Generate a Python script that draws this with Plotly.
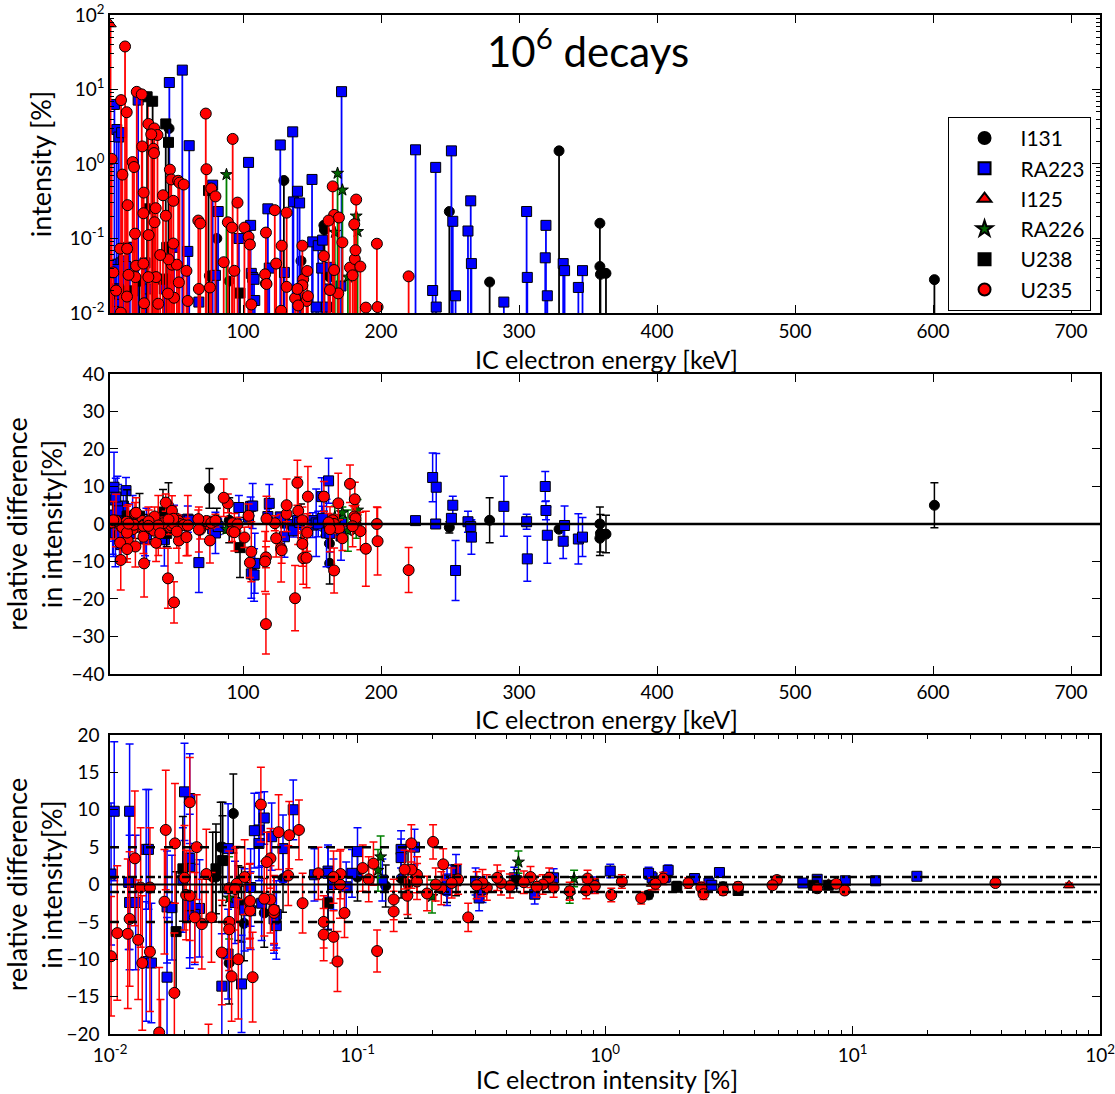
import plotly.graph_objects as go

# ---------------- data ----------------
# I131
i131_energy = [46.4, 75.6, 81.0, 129.6, 142.0, 158.6, 159.0, 162.6, 162.8, 249.5, 278.7, 329.0, 358.6, 358.6, 359.0, 363.0, 601.0, 46.0, 90.0]
i131_intensity = [3.0, 0.0315, 0.1, 0.6, 0.05, 0.15, 0.13, 0.0348, 0.0303, 0.23, 0.026, 1.5, 0.16, 0.042, 0.033, 0.034, 0.028, 0.0285, 0.0268]
i131_reldiff = [-0.3, 9.5, 1.0, 0.3, 0.8, 0.8, -0.2, -5.2, -10.5, -0.9, 1.0, -1.4, 0.0, -3.8, -2.5, -2.7, 5.0, 5.0, 1.0]
i131_err = [0.6, 5.3, 3.2, 1.3, 4.5, 2.6, 2.8, 5.0, 5.5, 1.5, 6.0, 0.5, 4.5, 4.6, 5.0, 5.0, 6.0, 6.0, 6.0]

# RA223
ra223_energy = [6.8, 7.2, 8.5, 10.0, 11.6, 12.0, 13.3, 15.2, 17.0, 18.0, 24.0, 29.0, 46.6, 50.0, 56.0, 60.0, 61.0, 68.0,
                78.0, 80.0, 82.0, 97.0, 104.0, 105.5, 106.0, 107.0, 108.0, 118.0, 119.0, 127.0, 130.0, 136.0, 136.5,
                139.5, 141.0, 150.0, 150.5, 153.0, 154.5, 157.0, 157.7, 160.5, 162.0, 163.0, 171.0, 171.4, 225.0,
                237.4, 239.6, 240.0, 251.0, 252.0, 254.0, 263.0, 265.0, 265.5, 289.0, 305.5, 306.0, 319.0, 319.5,
                320.5, 332.0, 333.0, 343.0, 346.0, 5.5, 6.0, 7.5, 9.0, 108.5, 10.5, 20.0, 5.8, 9.5, 30.0, 43.0, 7.8, 6.5]
ra223_intensity = [6.3, 0.045, 2.9, 2.3, 0.047, 2.63, 0.05, 0.042, 0.076, 0.076, 7.2, 0.047, 12.4, 0.076, 18.2, 0.067, 1.76, 0.014,
                   0.52, 0.032, 0.23, 0.1, 1.05, 0.15, 0.034, 0.03, 0.0283, 0.25, 0.04, 1.8, 0.035, 2.7, 0.31,
                   0.43, 0.3, 0.62, 0.09, 0.012, 0.08, 0.04, 0.095, 0.012, 0.021, 0.041, 0.023, 9.35, 1.55,
                   0.02, 0.9, 0.012, 1.5, 0.17, 0.017, 0.126, 0.32, 0.046, 0.014, 0.23, 0.03, 0.055, 0.15,
                   0.017, 0.046, 0.037, 0.022, 0.037, 0.0101, 0.0119, 0.0127, 0.0143, 0.0147, 0.0178, 0.0197, 0.021, 0.021, 0.021, 0.021, 0.0383, 0.0104]
ra223_reldiff = [0.2, 6.4, 1.6, 0.8, -5.5, 0.2, 4.8, 8.9, 1.8, -2.5, 0.7, -4.0, 0.5, 1.5, 1.1, 1.3, 1.0, -10.3,
                 -1.3, -2.4, -0.7, 4.4, 1.8, 4.7, -13.3, 4.8, -13.6, 2.0, 5.5, 1.9, -3.4, -0.1, -1.8,
                 0.9, 0.4, 0.9, -0.3, 0.3, 0.0, 7.3, 1.5, -2.4, 11.5, -2.5, -3.2, 0.5, 0.9,
                 12.4, 0.0, 9.8, 1.5, 5.0, -12.4, 0.6, -0.7, -3.5, 4.7, 0.6, -9.3, 10.0, 3.6,
                 -3.0, -4.6, -0.4, -4.0, -3.5, 1.4, 0.3, -2.4, 4.7, -10.5, -3.1, 0.6, 2.4, 3.5, -2.8, -4.2, 7.2, 9.8]
ra223_err = [0.4, 4.5, 0.6, 0.6, 4.5, 0.6, 4.5, 3.5, 3.5, 3.5, 0.4, 4.5, 0.3, 3.5, 0.3, 3.5, 0.7, 8.0,
             1.3, 5.5, 2.1, 3.2, 0.9, 2.5, 6.5, 6.0, 7.0, 2.0, 5.0, 0.7, 5.5, 0.6, 1.7,
             1.4, 1.8, 1.2, 3.3, 9.0, 3.4, 5.0, 3.2, 9.0, 6.0, 5.0, 6.5, 0.4, 0.8,
             6.5, 1.0, 9.0, 0.8, 2.4, 8.0, 2.8, 1.7, 4.6, 8.0, 2.0, 6.0, 4.0, 2.5,
             7.5, 4.6, 5.2, 6.7, 5.2, 9.5, 9.0, 9.0, 8.0, 8.0, 7.0, 7.0, 7.0, 7.0, 7.0, 7.0, 5.0, 9.3]

# I125
i125_energy = [4.0, 31.0, 34.5]
i125_intensity = [75.0, 8.0, 1.55]
i125_reldiff = [-0.1, 0.1, 0.1]
i125_err = [0.3, 0.4, 0.8]

# RA226
ra226_energy = [88.0, 168.5, 172.0, 182.0, 183.0, 166.5, 176.0]
ra226_intensity = [0.72, 0.75, 0.447, 0.2, 0.124, 0.121, 0.0303]
ra226_reldiff = [-1.4, 0.8, 3.0, -1.6, 3.7, 1.9, -1.8]
ra226_err = [1.1, 1.1, 1.5, 2.2, 2.8, 2.8, 5.5]

# U238
u238_energy = [30.5, 34.5, 44.0, 46.0, 75.0, 31.0, 44.7, 97.8, 16.0, 25.0, 42.0]
u238_intensity = [7.98, 6.95, 3.45, 1.95, 0.44, 0.25, 0.076, 0.0185, 0.0197, 0.0268, 0.0285]
u238_reldiff = [-0.1, -0.1, -0.8, -0.3, 0.5, 0.5, -2.5, -6.3, 2.1, 2.1, 3.2]
u238_err = [0.4, 0.4, 0.6, 0.7, 1.5, 2.0, 3.6, 8.0, 7.0, 6.0, 6.0]

# U235
u235_energy = [14.5, 23.0, 26.6, 11.6, 15.7, 73.0, 31.4, 35.7, 38.0, 33.5, 92.5, 27.0, 35.0, 35.5, 4.8, 20.0,
               21.0, 73.5, 47.0, 12.6, 48.0, 53.0, 54.0, 57.0, 165.0, 77.0, 28.0, 42.0, 80.0, 182.0, 49.5, 96.0,
               16.4, 36.7, 123.0, 131.6, 27.8, 166.0, 44.0, 169.5, 67.6, 162.0, 89.0, 35.9, 69.0, 180.6, 92.0,
               101.0, 116.6, 21.7, 31.6, 104.0,
               116.6, 137.7, 50.0, 45.6, 11.4, 28.3, 166.0, 220.0, 116.0, 105.0, 143.6, 146.0, 106.0, 127.6,
               143.0, 189.0, 124.0, 76.0, 53.5, 37.0, 22.0, 197.0, 197.5, 177.5, 139.4, 181.0, 158.6, 86.0,
               131.6, 169.0, 147.0, 140.0, 48.5, 22.5, 117.0, 181.5, 163.0, 146.5, 59.0, 68.0, 38.6, 60.0,
               15.9, 17.0, 31.4, 49.5, 10.9, 16.0, 172.0, 93.7, 52.0, 27.8, 46.0, 128.0, 143.0, 185.0, 179.4,
               8.0, 6.0, 40.0]
u235_intensity = [37.8, 9.3, 8.6, 7.2, 4.95, 4.75, 3.45, 3.0, 2.45, 2.5, 2.17, 1.72, 1.6, 1.4, 1.17, 1.06,
                  0.91, 0.85, 0.84, 0.72, 0.62, 0.595, 0.56, 0.53, 0.50, 0.47, 0.413, 0.38, 0.367, 0.333, 0.32, 0.303,
                  0.28, 0.255, 0.24, 0.222, 0.218, 0.207, 0.202, 0.191, 0.174, 0.174, 0.165, 0.165, 0.159, 0.155, 0.14,
                  0.14, 0.12, 0.116, 0.111, 0.105,
                  0.025, 0.0158, 0.016, 0.0182, 0.0101, 0.0135, 0.0377, 0.031, 0.033, 0.083, 0.0283, 0.0145, 0.013, 0.0107,
                  0.0235, 0.0118, 0.046, 0.022, 0.0257, 0.0303, 0.0303, 0.085, 0.012, 0.0407, 0.021, 0.053, 0.058, 0.048,
                  0.0224, 0.0183, 0.0168, 0.0126, 0.0445, 0.043, 0.0245, 0.0695, 0.0203, 0.0366, 0.0368, 0.021, 0.0133, 0.0145,
                  0.0166, 0.0325, 0.0303, 0.0855, 0.073, 0.073, 0.0886, 0.0368, 0.0445, 0.046, 0.0525, 0.08, 0.08, 0.042, 0.032,
                  0.02, 0.035, 0.06]
u235_reldiff = [0.2, -0.8, 0.1, -0.5, 0.6, -0.1, -0.3, -0.8, -0.4, -1.3, 0.2, 0.8, 0.1, -1.8, 0.4, -1.4,
                -0.2, 0.8, -0.8, -0.9, -0.4, 0.9, 0.0, -0.3, 1.0, 0.3, -0.2, 0.2, 0.9, -0.4, 0.2, -0.1,
                -4.4, 0.7, 0.2, 2.7, -0.5, 0.0, 5.7, -1.2, 1.3, 0.4, 5.5, 2.0, -1.5, 2.0, -2.0,
                -3.6, -8.9, 2.8, 0.7, 2.2,
                -26.7, -19.8, -20.9, -14.5, -9.6, -10.5, -12.4, -12.3, -10.0, -10.3, -9.1, -9.0, -7.4, -6.5,
                -5.3, -6.6, -3.8, -4.4, -4.4, -5.0, -6.0, 0.0, -4.6, 10.7, 11.0, 6.6, 7.3, 7.0,
                5.0, 5.5, 7.3, 3.5, 3.5, 3.0, 1.4, 1.5, -1.4, -2.3, -3.5, -1.5, -0.4, -0.4,
                -2.3, 0.1, -0.5, 1.4, -5.0, -6.7, -3.8, -2.2, -2.0, -3.4, 1.2, -7.0, 1.0, -1.9, -0.6,
                0.9, 1.0, -2.5]
u235_err = [0.3, 0.4, 0.4, 0.4, 0.5, 0.5, 0.6, 0.6, 0.7, 0.7, 0.7, 0.8, 0.8, 0.8, 0.9, 0.9,
            1.0, 1.1, 1.1, 1.2, 1.3, 1.3, 1.3, 1.4, 1.4, 1.5, 1.6, 1.6, 1.7, 1.7, 1.8, 1.8,
            1.9, 2.0, 2.0, 2.1, 2.2, 2.2, 2.3, 2.3, 2.4, 2.4, 2.5, 2.5, 2.5, 2.6, 2.7,
            2.7, 2.8, 2.9, 3.0, 3.1,
            8.0, 8.7, 5.5, 8.0, 8.0, 9.0, 6.0, 6.0, 8.0, 4.0, 7.0, 8.0, 8.0, 9.0,
            6.0, 10.0, 5.0, 6.0, 6.0, 5.0, 5.5, 4.5, 9.0, 5.0, 6.0, 4.5, 4.0, 5.0,
            7.0, 8.0, 8.0, 9.0, 4.0, 4.0, 6.0, 3.5, 6.0, 5.0, 5.0, 6.0, 8.0, 8.0,
            7.0, 5.0, 5.0, 3.3, 3.5, 3.5, 3.3, 5.0, 4.5, 4.5, 4.0, 3.5, 3.5, 5.0, 5.5,
            7.0, 5.0, 4.0]

series_names = ["I131", "RA223", "I125", "RA226", "U238", "U235"]
energy_tick_values = [100, 200, 300, 400, 500, 600, 700]
log_tick_values = [0.01, 0.1, 1, 10, 100]
log_tick_text = ["10<sup>-2</sup>", "10<sup>-1</sup>", "10<sup>0</sup>", "10<sup>1</sup>", "10<sup>2</sup>"]
dashed_levels = [5, -5]
dashdot_levels = [1, -1]

# ---------------- styles ----------------
styles = {
    "I131": dict(color="black", symbol="circle", size=10, line="black"),
    "RA223": dict(color="#0000ff", symbol="square", size=10, line="#0000ff"),
    "I125": dict(color="#ff0000", symbol="triangle-up", size=10, line="#ff0000"),
    "RA226": dict(color="#006400", symbol="star", size=9, line="#008000"),
    "U238": dict(color="black", symbol="square", size=10, line="black"),
    "U235": dict(color="#ff0000", symbol="circle", size=11, line="#ff0000"),
}
data = {
    "I131": (i131_energy, i131_intensity, i131_reldiff, i131_err),
    "RA223": (ra223_energy, ra223_intensity, ra223_reldiff, ra223_err),
    "I125": (i125_energy, i125_intensity, i125_reldiff, i125_err),
    "RA226": (ra226_energy, ra226_intensity, ra226_reldiff, ra226_err),
    "U238": (u238_energy, u238_intensity, u238_reldiff, u238_err),
    "U235": (u235_energy, u235_intensity, u235_reldiff, u235_err),
}

FONT = "Lato, 'Open Sans', sans-serif"
fig = go.Figure()

for name in series_names:
    E, I, R, S = data[name]
    st = styles[name]
    mk = dict(color=st["color"], symbol=st["symbol"], size=st["size"],
              line=dict(color="black", width=1))
    # stems
    sx, sy = [], []
    for e, i in zip(E, I):
        sx += [e, e, None]
        sy += [1e-3, i, None]
    fig.add_trace(go.Scatter(x=sx, y=sy, mode="lines", line=dict(color=st["line"], width=1.8),
                             showlegend=False, hoverinfo="skip", xaxis="x", yaxis="y"))
    fig.add_trace(go.Scatter(x=E, y=I, mode="markers", marker=mk, name=name,
                             showlegend=True, xaxis="x", yaxis="y"))

for name in series_names:
    E, I, R, S = data[name]
    st = styles[name]
    mk = dict(color=st["color"], symbol=st["symbol"], size=st["size"],
              line=dict(color="black", width=1))
    eb = dict(type="data", array=S, visible=True, color=st["line"], thickness=1.5, width=4)
    fig.add_trace(go.Scatter(x=E, y=R, mode="markers", marker=mk, error_y=eb,
                             showlegend=False, xaxis="x2", yaxis="y2"))

for name in series_names:
    E, I, R, S = data[name]
    st = styles[name]
    mk = dict(color=st["color"], symbol=st["symbol"], size=st["size"],
              line=dict(color="black", width=1))
    eb = dict(type="data", array=S, visible=True, color=st["line"], thickness=1.5, width=4)
    fig.add_trace(go.Scatter(x=I, y=R, mode="markers", marker=mk, error_y=eb,
                             showlegend=False, xaxis="x3", yaxis="y3"))

# reference lines
shapes = [
    dict(type="line", xref="x2 domain", yref="y2", x0=0, x1=1, y0=0, y1=0, line=dict(color="black", width=2.5)),
    dict(type="line", xref="x3 domain", yref="y3", x0=0, x1=1, y0=0, y1=0, line=dict(color="black", width=2)),
]
for lv in dashed_levels:
    shapes.append(dict(type="line", xref="x3 domain", yref="y3", x0=0, x1=1, y0=lv, y1=lv,
                       line=dict(color="black", width=2.5, dash="dash")))
for lv in dashdot_levels:
    shapes.append(dict(type="line", xref="x3 domain", yref="y3", x0=0, x1=1, y0=lv, y1=lv,
                       line=dict(color="black", width=2.5, dash="dashdot")))

minor_log = [k * 10 ** p for p in range(-2, 2) for k in range(2, 10)]

common = dict(showline=True, linecolor="black", linewidth=1.5, mirror="allticks", ticks="inside",
              ticklen=8, tickwidth=1, tickcolor="black", showgrid=False, zeroline=False,
              automargin=False, ticklabeloverflow="allow",
              tickfont=dict(family=FONT, size=19, color="black"))
title_font = dict(family=FONT, size=25, color="black")
ytitle_font = dict(family=FONT, size=27, color="black")

x_titles = [("IC electron energy [keV]", 0.6624), ("IC electron energy [keV]", 0.3091),
            ("IC electron intensity [%]", -0.0442)]
annotations = [dict(text="10<sup>6</sup> decays", xref="paper", yref="paper", x=0.483, y=0.968,
                    xanchor="center", yanchor="middle",
                    showarrow=False, font=dict(family=FONT, size=42, color="black"))]
for txt, yy in x_titles:
    annotations.append(dict(text=txt, xref="paper", yref="paper", x=0.502, y=yy, xanchor="center",
                            yanchor="middle", showarrow=False, font=title_font))

fig.update_layout(
    width=1115, height=1094,
    margin=dict(l=110, r=15, t=15, b=60),
    paper_bgcolor="white", plot_bgcolor="white",
    font=dict(family=FONT, color="black"),
    shapes=shapes,
    xaxis=dict(common, domain=[0, 1], anchor="y", range=[3.6, 721], tickvals=energy_tick_values),
    yaxis=dict(common, domain=[0.7076, 1], anchor="x", type="log", range=[-2, 2],
               tickvals=log_tick_values, ticktext=log_tick_text,
               minor=dict(tickvals=minor_log, ticks="inside", ticklen=4, tickcolor="black"),
               title=dict(text="intensity [%]", font=ytitle_font, standoff=10)),
    xaxis2=dict(common, domain=[0, 1], anchor="y2", range=[3.6, 721], tickvals=energy_tick_values),
    yaxis2=dict(common, domain=[0.3533, 0.6477], anchor="x2", range=[-40, 40], dtick=10,
                title=dict(text="relative difference<br>in intensity[%]", font=ytitle_font, standoff=1)),
    xaxis3=dict(common, domain=[0, 1], anchor="y3", type="log", range=[-2, 2],
                tickvals=log_tick_values, ticktext=log_tick_text, ticklabelstandoff=3,
                minor=dict(tickvals=minor_log, ticks="inside", ticklen=4, tickcolor="black")),
    yaxis3=dict(common, domain=[0, 0.2934], anchor="x3", range=[-20, 20], dtick=5, ticklabelstandoff=5,
                title=dict(text="relative difference<br>in intensity[%]", font=ytitle_font, standoff=0)),
    legend=dict(x=0.846, y=0.90, xanchor="left", yanchor="top", bgcolor="white",
                bordercolor="black", borderwidth=1, font=dict(family=FONT, size=21, color="black"),
                itemsizing="constant", itemwidth=62, tracegroupgap=1),
    annotations=annotations,
)

fig.write_html("out.html")
